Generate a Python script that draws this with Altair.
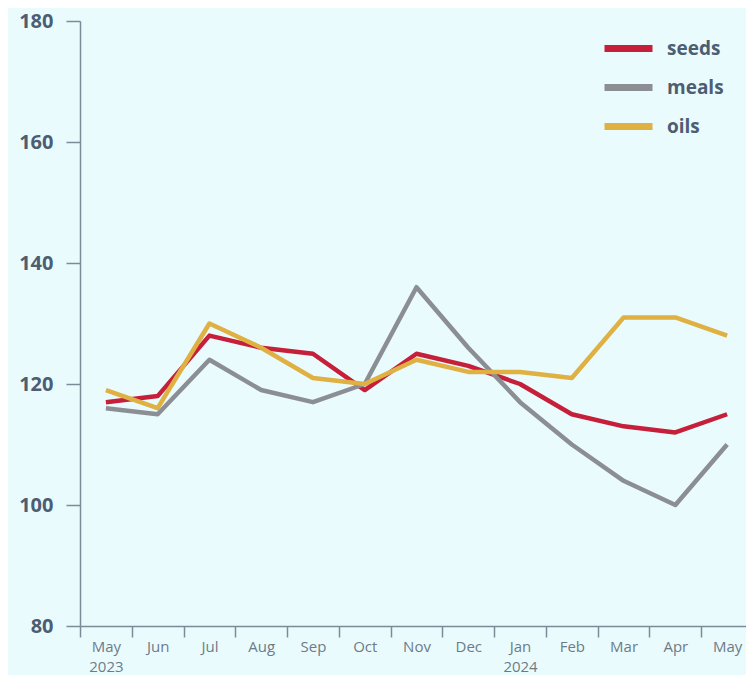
import altair as alt
import pandas as pd

months = ["May 2023", "Jun", "Jul", "Aug", "Sep", "Oct", "Nov", "Dec",
          "Jan 2024", "Feb", "Mar", "Apr", "May"]
seeds = [117, 118, 128, 126, 125, 119, 125, 123, 120, 115, 113, 112, 115]
meals = [116, 115, 124, 119, 117, 120, 136, 126, 117, 110, 104, 100, 110]
oils = [119, 116, 130, 126, 121, 120, 124, 122, 122, 121, 131, 131, 128]
series = ["seeds", "meals", "oils"]
colors = ["#c61f3a", "#8b8f93", "#dfb042"]
y_ticks = [80, 100, 120, 140, 160, 180]

rows = []
for name, vals in zip(series, [seeds, meals, oils]):
    for i, (m, v) in enumerate(zip(months, vals)):
        rows.append({"month": m, "series": name, "value": v, "order": i})
df = pd.DataFrame(rows)

axis_color = "#7c8b96"

chart = alt.Chart(df).mark_line(strokeWidth=4.5, strokeJoin="round").encode(
    x=alt.X("month:N", sort=months,
            scale=alt.Scale(type="band", paddingInner=0, paddingOuter=0, range=[0, 673]),
            axis=alt.Axis(title=None,
                          labelExpr="datum.value ? split(datum.value, ' ') : ''",
                          tickBand="extent",
                          labelAngle=0, labelFont="Open Sans", labelFontSize=15,
                          labelColor="#6d7b88", labelPadding=2, labelLineHeight=20,
                          tickSize=11, tickColor=axis_color, tickWidth=1.5,
                          domainColor=axis_color, domainWidth=1.5, grid=False)),
    y=alt.Y("value:Q", scale=alt.Scale(domain=[80, 180], nice=False, zero=False),
            axis=alt.Axis(title=None, values=y_ticks, grid=False, labelFont="Open Sans",
                          labelFontSize=20, labelFontWeight="bold", labelColor="#4d5d72",
                          labelPadding=13, tickSize=14, tickColor=axis_color, tickWidth=1.5,
                          domainColor=axis_color, domainWidth=1.5)),
    color=alt.Color("series:N", sort=series,
                    scale=alt.Scale(domain=series, range=colors),
                    legend=alt.Legend(title=None, orient="none", legendX=525, legendY=4,
                                      symbolType="M-1.2,0H1.2", symbolSize=1600,
                                      symbolStrokeWidth=7, labelOffset=15,
                                      labelFont="Open Sans", labelFontSize=19,
                                      labelFontWeight="bold", labelColor="#4d5d72",
                                      rowPadding=1)),
    order="order:Q",
).properties(
    width=666, height=605,
    background="#eafbfe",
    autosize=alt.AutoSizeParams(type="none"),
    padding={"left": 72, "top": 13, "right": 0, "bottom": 49},
).configure_view(stroke=None)

chart.save("out.html", embed_options={"renderer": "svg", "actions": False})
